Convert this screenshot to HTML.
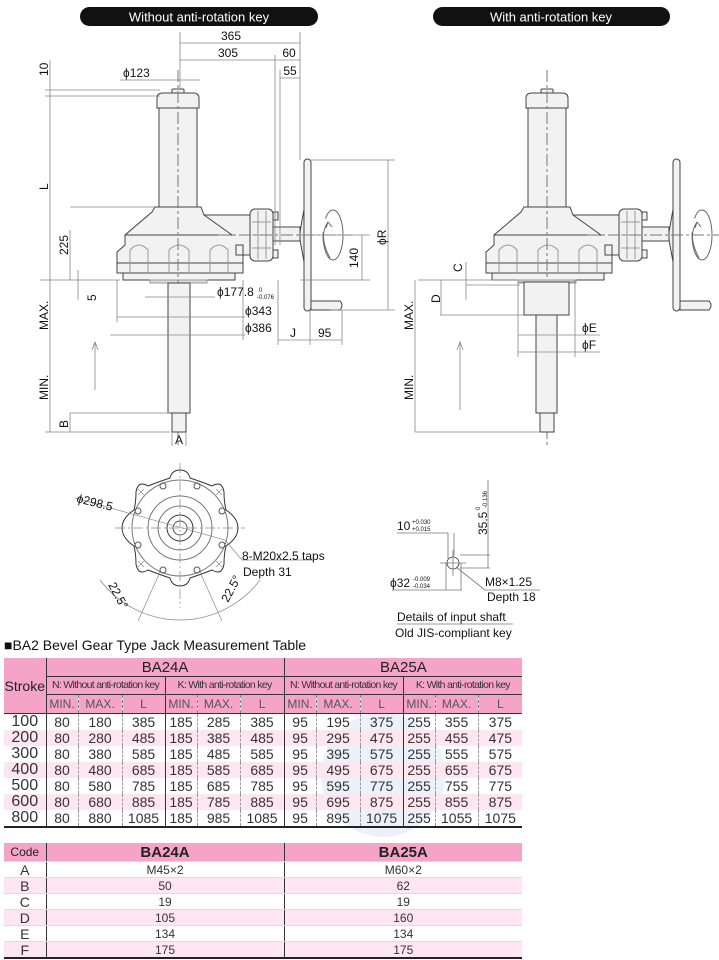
<!DOCTYPE html>
<html><head><meta charset="utf-8"><style>
body{margin:0;width:719px;height:960px;background:#fff;position:relative;overflow:hidden;font-family:"Liberation Sans",sans-serif}
svg{position:absolute;left:0;top:0}
table{position:absolute;border-collapse:collapse;table-layout:fixed;font-family:"Liberation Sans",sans-serif;color:#333}
td{padding:0;text-align:center;white-space:nowrap;overflow:hidden;line-height:1}
.h{background:#f5a3c7;color:#222}
.p td{background:#fde6f0}
.d td{border-left:1px dashed #999}
#t1 td{font-size:14px;height:16px}
#t1 .g{border-left:1.5px solid #333}
#t1 .s{font-size:14px;color:#222}
.nk{font-size:10.5px !important;letter-spacing:-0.7px;color:#333}
.sm{font-size:12px !important;color:#555}
#t2 td{font-size:12px;height:15px;border-bottom:1px solid #ddd}
</style></head><body>
<svg width="719" height="960" viewBox="0 0 719 960" font-family="Liberation Sans, sans-serif">
<defs>
<g id="jack" stroke="#444" stroke-width="1" fill="#f2f2f2">
  <rect x="-6" y="89" width="12" height="5" rx="1"/>
  <path d="M-21,108 L-21,98 Q-21,93 -15,93 L15,93 Q21,93 21,98 L21,108 Z"/>
  <rect x="-19" y="108" width="38" height="99"/>
  <path d="M-23,207 L23,207 L26,215 L72,215 L72,255 L58,255 L58,245 L65,245 L65,273 L-61,273 L-61,252 L-53,245 L-53,235 L-26,212 Z"/>
  <path d="M26,215 L54,235 L-53,235" fill="none"/>
  <rect x="-61" y="263" width="126" height="10"/>
  <rect x="-55" y="273" width="112" height="7"/>
  <g fill="none" stroke="#999">
    <path d="M-48,273 L-48,250 Q-39,240 -30,250 L-30,273"/>
    <path d="M-9,273 L-9,250 Q1,240 11,250 L11,273"/>
    <path d="M32,273 L32,250 Q41,240 50,250 L50,273"/>
  </g>
  <rect x="72" y="209" width="23" height="52" rx="5"/>
  <path d="M74,222 H93 M74,235 H93 M74,248 H93 M80,211 V259 M88,211 V259" stroke="#999" fill="none"/>
  <rect x="95" y="212" width="5" height="8"/><rect x="95" y="250" width="5" height="8"/>
  <rect x="95" y="227" width="27" height="14"/>
  <path d="M122,232 L133,170 L133,300 L122,240 Z" fill="#eee"/>
  <rect x="126" y="159" width="7" height="152" rx="3.5"/>
  <path d="M133,301 L162,301 Q166,305 162,310 L133,310 Z"/>
  <rect x="-28" y="280" width="57" height="3" fill="#ddd" stroke="#999"/>
  <path d="M150,222 Q140,236 152,258" fill="none" stroke="#666"/>
  <ellipse cx="155" cy="235" rx="10" ry="25" fill="none" stroke="#666" stroke-dasharray="60 14"/>
  <path d="M150,222 L148,228 M150,222 L154,227" stroke="#666" fill="none"/>
  <line x1="0" y1="70" x2="0" y2="445" stroke="#777" stroke-dasharray="12 3 3 3"/>
  <line x1="40" y1="235" x2="175" y2="235" stroke="#777" stroke-dasharray="12 3 3 3"/>
</g>
</defs>

<rect x="80" y="7" width="238" height="19" rx="9.5" fill="#111"/>
<text x="199" y="21.5" fill="#fff" font-size="13" text-anchor="middle">Without anti-rotation key</text>
<rect x="433" y="7" width="237" height="19" rx="9.5" fill="#111"/>
<text x="551" y="21.5" fill="#fff" font-size="13" text-anchor="middle">With anti-rotation key</text>

<use href="#jack" transform="translate(178,0)"/>
<g stroke="#444" fill="#f2f2f2">
  <rect x="168" y="283" width="22" height="130"/>
  <rect x="172" y="413" width="14" height="19"/>
</g>
<g stroke="#888" stroke-width="0.8" fill="none">
  <path d="M180,32 V90 M300,32 V160 M275,55 V245 M280,70 V245 M180,43 H300 M180,60 H300 M280,78 H300"/>
  <path d="M45,90 H160 M45,96 H160 M50,60 V432 M70,207 H155 M70,230 V280 M40,280 H120 M78,270 V300"/>
  <path d="M120,80 H200 M145,297 H215 M117,317 H245 M110,335 H245 M117,280 V322 M243,280 V340 M278,280 V345 M310,310 V345 M342,310 V345 M278,340 H342"/>
  <path d="M300,235 H370 M362,235 V280 M300,280 H370 M310,160 H395 M388,160 V310 M330,310 H395"/>
  <path d="M45,432 H170 M70,413 H170 M70,413 V432 M172,432 V446 M186,432 V446"/>
  <path d="M95,390 V342 M92,350 L95,342 L98,350"/>
</g>
<g font-size="12" fill="#111">
  <text x="231" y="40" text-anchor="middle">365</text>
  <text x="228" y="57" text-anchor="middle">305</text>
  <text x="289" y="57" text-anchor="middle">60</text>
  <text x="290" y="75" text-anchor="middle">55</text>
  <text x="123" y="77">ϕ123</text>
  <text transform="translate(48,76) rotate(-90)">10</text>
  <text transform="translate(48,190) rotate(-90)">L</text>
  <text transform="translate(68,255) rotate(-90)">225</text>
  <text transform="translate(96,301) rotate(-90)">5</text>
  <text transform="translate(48,330) rotate(-90)">MAX.</text>
  <text transform="translate(48,400) rotate(-90)">MIN.</text>
  <text transform="translate(68,428) rotate(-90)">B</text>
  <text x="175" y="444">A</text>
  <text x="217" y="296">ϕ177.8</text><text x="259" y="292" font-size="6">0</text><text x="257" y="299" font-size="6">-0.076</text>
  <text x="245" y="315">ϕ343</text>
  <text x="245" y="332">ϕ386</text>
  <text x="290" y="337">J</text>
  <text x="318" y="337">95</text>
  <text transform="translate(358,268) rotate(-90)">140</text>
  <text transform="translate(386,245) rotate(-90)">ϕR</text>
</g>

<use href="#jack" transform="translate(547,0)"/>
<g stroke="#444" fill="#f2f2f2">
  <rect x="518" y="280" width="57" height="2" fill="#ddd" stroke="#999"/>
  <rect x="524" y="282" width="45" height="33"/>
  <rect x="536" y="315" width="21" height="98"/>
  <rect x="540" y="413" width="14" height="19"/>
</g>
<g stroke="#888" stroke-width="0.8" fill="none">
  <path d="M418,280 H518 M440,315 H524 M466,285 H520 M466,262 V300 M441,280 V315 M415,280 V432 M415,432 H540"/>
  <path d="M518,282 V357 M575,282 V357 M518,335 H600 M518,352 H600"/>
  <path d="M460,410 V342 M457,350 L460,342 L463,350"/>
</g>
<g font-size="12" fill="#111">
  <text transform="translate(462,272) rotate(-90)">C</text>
  <text transform="translate(440,303) rotate(-90)">D</text>
  <text transform="translate(413,330) rotate(-90)">MAX.</text>
  <text transform="translate(413,400) rotate(-90)">MIN.</text>
  <text x="582" y="332">ϕE</text>
  <text x="582" y="349">ϕF</text>
</g>

<g transform="translate(180,528)" stroke="#333" fill="none" stroke-width="1">
  <path d="M0,-58 Q8,-58 10,-50 Q22,-46 32,-42 Q42,-48 44,-36 Q44,-26 46,-18 Q58,-10 58,0 Q58,10 46,18 Q44,26 44,36 Q42,48 32,42 Q22,46 10,50 Q8,58 0,58 Q-8,58 -10,50 Q-22,46 -32,42 Q-42,48 -44,36 Q-44,26 -46,18 Q-58,10 -58,0 Q-58,-10 -46,-18 Q-44,-26 -44,-36 Q-42,-48 -32,-42 Q-22,-46 -10,-50 Q-8,-58 0,-58 Z"/>
  <circle r="48" stroke="#777"/>
  <circle r="32" stroke="#777"/>
  <circle r="22" stroke="#777"/>
  <circle r="13"/><circle r="7" stroke="#555"/>
  <g stroke="#555">
    <circle cx="17" cy="-42" r="3"/><circle cx="42" cy="-17" r="3"/><circle cx="42" cy="17" r="3"/><circle cx="17" cy="42" r="3"/>
    <circle cx="-17" cy="-42" r="3"/><circle cx="-42" cy="-17" r="3"/><circle cx="-42" cy="17" r="3"/><circle cx="-17" cy="42" r="3"/>
  </g>
  <g stroke="#888" stroke-width="0.7">
    <path d="M-65,0 H65 M0,-65 V80" stroke-dasharray="10 3 2 3"/>
    <path d="M-42,-39 l6,6 m0,-6 l-6,6 M36,-39 l6,6 m0,-6 l-6,6 M-42,33 l6,6 m0,-6 l-6,6 M36,33 l6,6 m0,-6 l-6,6"/>
    <path d="M-105,-30 L45,12 L62,32 H133"/>
    <path d="M-80,52 A100,100 0 0 0 80,52"/>
    <path d="M-20,44 L-42,93 M20,44 L42,93"/>
  </g>
</g>
<g font-size="12" fill="#111">
  <text transform="translate(76,502) rotate(14)">ϕ298.5</text>
  <text x="242" y="560">8-M20x2.5 taps</text>
  <text x="243" y="576">Depth 31</text>
  <text transform="translate(108,585) rotate(62)">22.5°</text>
  <text transform="translate(228,603) rotate(-62)">22.5°</text>
</g>

<g stroke="#777" stroke-width="0.8" fill="none">
  <circle cx="453" cy="563" r="6" stroke="#333"/>
  <path d="M440,563 H466 M453,550 V576 M397,533 H448 M448,533 V560 M454,533 V556 M392,590 H462 M446,563 V590 M461,563 V590 M460,555 H490 M460,568 H490 M488,480 V568 M456,567 L485,590 H540"/>
  <path d="M397,624 H513"/>
</g>
<g font-size="12" fill="#111">
  <text x="397" y="530">10</text><text x="412" y="524" font-size="6">+0.030</text><text x="412" y="531" font-size="6">+0.015</text>
  <text transform="translate(487,535) rotate(-90)">35.5</text><text transform="translate(480,510) rotate(-90)" font-size="6">0</text><text transform="translate(487,508) rotate(-90)" font-size="6">-0.136</text>
  <text x="390" y="587">ϕ32</text><text x="413" y="581" font-size="6">-0.009</text><text x="413" y="588" font-size="6">-0.034</text>
  <text x="485" y="586">M8×1.25</text>
  <text x="487" y="601">Depth 18</text>
  <text x="397" y="621">Details of input shaft</text>
  <text x="395" y="637">Old JIS-compliant key</text>
</g>

<text x="4" y="650" font-size="14" fill="#111">■BA2 Bevel Gear Type Jack Measurement Table</text>
<circle cx="383" cy="775" r="62" fill="#c8d8ee" opacity="0.35"/>
</svg>

<table id="t1" style="left:4px;top:658px;width:518px">
<colgroup><col style="width:42px"><col style="width:32px"><col style="width:44px"><col style="width:43px"><col style="width:32px"><col style="width:43px"><col style="width:44px"><col style="width:32px"><col style="width:44px"><col style="width:43px"><col style="width:32px"><col style="width:43px"><col style="width:44px"></colgroup>
<tr class="h"><td rowspan="3" class="s" style="border-bottom:1px solid #333">Stroke</td><td colspan="6" class="g" style="font-size:15px;height:18px;color:#222">BA24A</td><td colspan="6" class="g" style="font-size:15px;color:#222">BA25A</td></tr>
<tr class="h"><td colspan="3" class="g nk" style="border-top:1px solid #333;height:17px">N: Without anti-rotation key</td><td colspan="3" class="g nk" style="border-top:1px solid #333">K: With anti-rotation key</td><td colspan="3" class="g nk" style="border-top:1px solid #333">N: Without anti-rotation key</td><td colspan="3" class="g nk" style="border-top:1px solid #333">K: With anti-rotation key</td></tr>
<tr class="h" style="border-bottom:1px solid #333"><td class="g sm" style="border-top:1px solid #333;height:18px">MIN.</td><td class="sm" style="border-left:1px dashed #888;border-top:1px solid #333">MAX.</td><td class="sm" style="border-left:1px dashed #888;border-top:1px solid #333">L</td><td class="g sm" style="border-top:1px solid #333">MIN.</td><td class="sm" style="border-left:1px dashed #888;border-top:1px solid #333">MAX.</td><td class="sm" style="border-left:1px dashed #888;border-top:1px solid #333">L</td><td class="g sm" style="border-top:1px solid #333">MIN.</td><td class="sm" style="border-left:1px dashed #888;border-top:1px solid #333">MAX.</td><td class="sm" style="border-left:1px dashed #888;border-top:1px solid #333">L</td><td class="g sm" style="border-top:1px solid #333">MIN.</td><td class="sm" style="border-left:1px dashed #888;border-top:1px solid #333">MAX.</td><td class="sm" style="border-left:1px dashed #888;border-top:1px solid #333">L</td></tr>
<tr class="d"><td style="border:0;font-size:16px">100</td><td class="g">80</td><td>180</td><td>385</td><td class="g">185</td><td>285</td><td>385</td><td class="g">95</td><td>195</td><td>375</td><td class="g">255</td><td>355</td><td>375</td></tr>
<tr class="d p"><td style="border:0;font-size:16px">200</td><td class="g">80</td><td>280</td><td>485</td><td class="g">185</td><td>385</td><td>485</td><td class="g">95</td><td>295</td><td>475</td><td class="g">255</td><td>455</td><td>475</td></tr>
<tr class="d"><td style="border:0;font-size:16px">300</td><td class="g">80</td><td>380</td><td>585</td><td class="g">185</td><td>485</td><td>585</td><td class="g">95</td><td>395</td><td>575</td><td class="g">255</td><td>555</td><td>575</td></tr>
<tr class="d p"><td style="border:0;font-size:16px">400</td><td class="g">80</td><td>480</td><td>685</td><td class="g">185</td><td>585</td><td>685</td><td class="g">95</td><td>495</td><td>675</td><td class="g">255</td><td>655</td><td>675</td></tr>
<tr class="d"><td style="border:0;font-size:16px">500</td><td class="g">80</td><td>580</td><td>785</td><td class="g">185</td><td>685</td><td>785</td><td class="g">95</td><td>595</td><td>775</td><td class="g">255</td><td>755</td><td>775</td></tr>
<tr class="d p"><td style="border:0;font-size:16px">600</td><td class="g">80</td><td>680</td><td>885</td><td class="g">185</td><td>785</td><td>885</td><td class="g">95</td><td>695</td><td>875</td><td class="g">255</td><td>855</td><td>875</td></tr>
<tr class="d" style="border-bottom:2px solid #222"><td style="border:0;font-size:16px">800</td><td class="g">80</td><td>880</td><td>1085</td><td class="g">185</td><td>985</td><td>1085</td><td class="g">95</td><td>895</td><td>1075</td><td class="g">255</td><td>1055</td><td>1075</td></tr>
</table>

<table id="t2" style="left:4px;top:843px;width:518px">
<colgroup><col style="width:42px"><col style="width:238px"><col style="width:238px"></colgroup>
<tr class="h" style="border-bottom:1px solid #333"><td style="height:18px;font-size:12px">Code</td><td style="border-left:1.5px solid #333;font-size:15px;font-weight:bold;color:#222">BA24A</td><td style="border-left:1.5px solid #333;font-size:15px;font-weight:bold;color:#222">BA25A</td></tr>
<tr><td style="font-size:14px">A</td><td style="border-left:1.5px solid #333">M45×2</td><td style="border-left:1.5px solid #333">M60×2</td></tr>
<tr class="p"><td style="font-size:14px">B</td><td style="border-left:1.5px solid #333">50</td><td style="border-left:1.5px solid #333">62</td></tr>
<tr><td style="font-size:14px">C</td><td style="border-left:1.5px solid #333">19</td><td style="border-left:1.5px solid #333">19</td></tr>
<tr class="p"><td style="font-size:14px">D</td><td style="border-left:1.5px solid #333">105</td><td style="border-left:1.5px solid #333">160</td></tr>
<tr><td style="font-size:14px">E</td><td style="border-left:1.5px solid #333">134</td><td style="border-left:1.5px solid #333">134</td></tr>
<tr class="p" style="border-bottom:2px solid #222"><td style="font-size:14px">F</td><td style="border-left:1.5px solid #333">175</td><td style="border-left:1.5px solid #333">175</td></tr>
</table>
</body></html>
